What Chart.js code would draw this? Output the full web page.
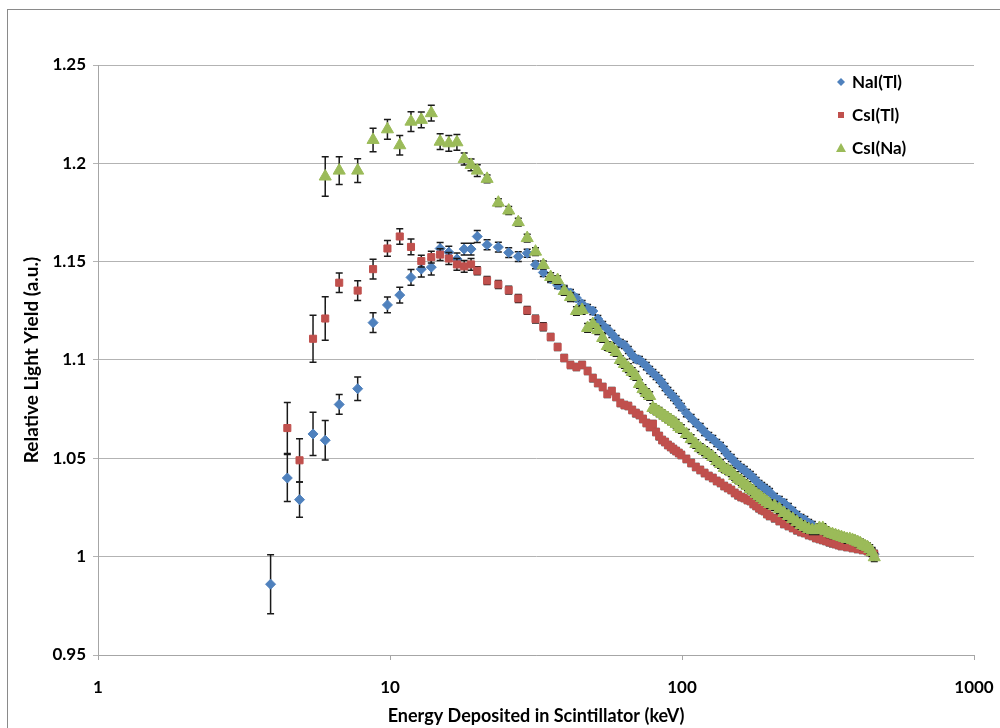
<!DOCTYPE html>
<html>
<head>
  <title>Relative Light Yield</title>
  <script src="https://cdn.jsdelivr.net/npm/chart.js"></script>
  <style>
    body { margin: 0; background: #fff; overflow: hidden; }
    #wrap { position: relative; width: 1000px; height: 728px; }
    #frame { position: absolute; left: 7px; top: 9px; width: 1010px; height: 740px; border: 1px solid #8a8a8a; }
  </style>
</head>
<body>
  <div id="wrap">
    <div id="frame"></div>
    <canvas id="lyChart"></canvas>
  </div>

  <script>
    // energy bins (keV)
    const lowE = [3.9, 4.45, 4.9, 5.45, 6.0, 6.7, 7.75, 8.75, 9.8, 10.8, 11.8, 12.8, 13.85, 14.85,
      15.9, 16.95, 17.95, 18.95, 19.9, 21.5, 23.5, 25.5, 27.5, 29.5, 31.5, 33.5];
    const highE = [35.5, 37.5, 39.5, 41.5, 43.5, 45.5, 47.5, 49.5, 51.5, 53.5, 55.5, 57.5, 59.5, 61.5,
      63.5, 65.5, 67.5, 69.5, 71.5, 73.5, 75.5, 77.5, 79.5, 81.5, 83.5, 85.5, 87.5, 89.5, 91.5, 93.5,
      95.5, 97.5, 99.5,
      103.5, 107.5, 111.5, 115.5, 119.5, 123.5, 127.5, 131.5, 135.5, 139.5, 143.5, 147.5, 151.5, 155.5,
      159.5, 163.5, 167.5, 171.5, 175.5, 179.5, 183.5, 187.5, 191.5, 195.5, 199.5,
      207.5, 215.5, 223.5, 231.5, 239.5, 247.5, 255.5, 263.5, 271.5, 279.5, 287.5, 295.5, 303.5, 311.5,
      319.5, 327.5, 335.5, 343.5, 351.5, 359.5, 367.5, 375.5, 383.5, 391.5, 399.5, 407.5, 415.5, 423.5,
      431.5, 439.5, 447.5, 455.5];
    const xTicks = [1, 10, 100, 1000];

    // NaI(Tl)
    const naiLowY = [0.986, 1.040, 1.029, 1.0624, 1.0592, 1.0774, 1.0854, 1.119, 1.128, 1.133, 1.142,
      1.1462, 1.1472, 1.1567, 1.1548, 1.1514, 1.1564, 1.1564, 1.1628, 1.1586, 1.1574, 1.1546, 1.1526,
      1.1543, 1.1484, 1.1445];
    const naiLowErr = [0.015, 0.012, 0.009, 0.011, 0.010, 0.005, 0.006, 0.005, 0.004, 0.004, 0.004,
      0.004, 0.004, 0.003, 0.003, 0.003, 0.003, 0.003, 0.003, 0.0025, 0.0025, 0.0025, 0.0025, 0.002,
      0.002, 0.002];
    const naiHighY = [1.1412, 1.1381, 1.1361, 1.1341, 1.1315, 1.1285, 1.1264, 1.1249, 1.1208, 1.1178,
      1.1158, 1.1132, 1.1107, 1.1086, 1.1076, 1.1051, 1.1025, 1.1005, 1.1000, 1.0985, 1.0969, 1.0949,
      1.0934, 1.0919, 1.0903, 1.0883, 1.0863, 1.0842, 1.0827, 1.0812, 1.0797, 1.0776, 1.0761,
      1.0730, 1.0705, 1.0680, 1.0659, 1.0634, 1.0613, 1.0598, 1.0578, 1.0563, 1.0542, 1.0517, 1.0502,
      1.0481, 1.0466, 1.0451, 1.0441, 1.0425, 1.0415, 1.0400, 1.0385, 1.0369, 1.0359, 1.0349, 1.0339,
      1.0329,
      1.0303, 1.0288, 1.0273, 1.0252, 1.0232, 1.0212, 1.0196, 1.0186, 1.0171, 1.0161, 1.0146, 1.0141,
      1.0130, 1.0120, 1.0115, 1.0110, 1.0105, 1.0100, 1.0095, 1.0090, 1.0085, 1.0080, 1.0074, 1.0069,
      1.0059, 1.0054, 1.0049, 1.0044, 1.0039, 1.0029, 1.0024, 1.0013];
    const naiHighErr = 0.0018;

    // CsI(Tl)
    const csiTlLowY = [1.0654, 1.049, 1.1108, 1.1211, 1.1393, 1.1353, 1.1462, 1.1567, 1.1628, 1.1575,
      1.1503, 1.1523, 1.1536, 1.1516, 1.1486, 1.1476, 1.1486, 1.1454, 1.1404, 1.1384, 1.1355, 1.1313,
      1.1252, 1.1208, 1.1169];
    const csiTlLowErr = [0.013, 0.011, 0.012, 0.011, 0.005, 0.005, 0.005, 0.004, 0.004, 0.004, 0.003,
      0.003, 0.003, 0.003, 0.003, 0.003, 0.003, 0.002, 0.002, 0.002, 0.002, 0.002, 0.002, 0.002, 0.002];
    const csiTlHighY = [1.1117, 1.1066, 1.1010, 1.0975, 1.0964, 1.0975, 1.0944, 1.0908, 1.0883, 1.0863,
      1.0827, 1.0842, 1.0812, 1.0781, 1.0771, 1.0766, 1.0746, 1.0730, 1.0720, 1.0700, 1.0680, 1.0659,
      1.0675, 1.0634, 1.0613, 1.0593, 1.0583, 1.0568, 1.0558, 1.0547, 1.0537, 1.0527, 1.0517,
      1.0497, 1.0476, 1.0456, 1.0441, 1.0425, 1.0410, 1.0400, 1.0385, 1.0375, 1.0359, 1.0349, 1.0339,
      1.0324, 1.0313, 1.0303, 1.0298, 1.0288, 1.0283, 1.0268, 1.0258, 1.0247, 1.0237, 1.0232, 1.0217,
      1.0207,
      1.0196, 1.0181, 1.0166, 1.0156, 1.0146, 1.0135, 1.0125, 1.0120, 1.0110, 1.0105, 1.0095, 1.0090,
      1.0085, 1.0080, 1.0074, 1.0069, 1.0064, 1.0059, 1.0054, 1.0054, 1.0049, 1.0049, 1.0044, 1.0044,
      1.0039, 1.0039, 1.0034, 1.0034, 1.0029, 1.0024, 1.0019, 1.0013];
    const csiTlHighErr = 0.0018;

    // CsI(Na)
    const csiNaLowY = [1.1933, 1.1963, 1.1963, 1.2119, 1.2173, 1.2092, 1.2212, 1.2221, 1.2255, 1.2110,
      1.2102, 1.2107, 1.2022, 1.1992, 1.1963, 1.1921, 1.1800, 1.1760, 1.1701, 1.1620, 1.1551, 1.1483];
    const csiNaLowErr = [0.010, 0.007, 0.006, 0.006, 0.005, 0.005, 0.005, 0.004, 0.004, 0.004, 0.004,
      0.004, 0.003, 0.003, 0.003, 0.002, 0.002, 0.002, 0.002, 0.002, 0.002, 0.002];
    const csiNaHighY = [1.1422, 1.1407, 1.1351, 1.1320, 1.1249, 1.1254, 1.1163, 1.1183, 1.1152, 1.1112,
      1.1071, 1.1061, 1.1041, 1.1000, 1.0980, 1.0959, 1.0939, 1.0919, 1.0878, 1.0852, 1.0832, 1.0817,
      1.0756, 1.0746, 1.0736, 1.0725, 1.0715, 1.0705, 1.0695, 1.0685, 1.0675, 1.0659, 1.0649,
      1.0624, 1.0598, 1.0573, 1.0552, 1.0537, 1.0522, 1.0507, 1.0486, 1.0471, 1.0451, 1.0441, 1.0430,
      1.0410, 1.0395, 1.0385, 1.0369, 1.0359, 1.0344, 1.0334, 1.0319, 1.0308, 1.0298, 1.0288, 1.0278,
      1.0268,
      1.0258, 1.0242, 1.0222, 1.0207, 1.0191, 1.0176, 1.0161, 1.0151, 1.0141, 1.0135, 1.0135, 1.0146,
      1.0146, 1.0130, 1.0120, 1.0115, 1.0110, 1.0105, 1.0100, 1.0095, 1.0090, 1.0090, 1.0085, 1.0080,
      1.0074, 1.0069, 1.0059, 1.0054, 1.0049, 1.0039, 1.0024, 0.9997];
    const csiNaHighErr = 0.0022;

    function points(es, ys, errs) {
      return ys.map((y, i) => ({ x: es[i], y: y, err: Array.isArray(errs) ? errs[i] : errs }));
    }

    const naiData = points(lowE, naiLowY, naiLowErr).concat(points(highE, naiHighY, naiHighErr));
    const csiTlData = points(lowE.slice(1), csiTlLowY, csiTlLowErr).concat(points(highE, csiTlHighY, csiTlHighErr));
    const csiNaData = points(lowE.slice(4), csiNaLowY, csiNaLowErr).concat(points(highE, csiNaHighY, csiNaHighErr));

    const FONT = 'Lato';

    // vertical error bars, drawn just under each series' markers
    const errorBars = {
      id: 'errorBars',
      beforeDatasetDraw(chart, args) {
        const { ctx, chartArea, scales } = chart;
        const ds = chart.data.datasets[args.index];
        ctx.save();
        ctx.beginPath();
        ctx.rect(chartArea.left, chartArea.top, chartArea.right - chartArea.left, chartArea.bottom - chartArea.top);
        ctx.clip();
        ctx.strokeStyle = '#1a1a1a';
        ctx.lineWidth = 1.5;
        ctx.beginPath();
        args.meta.data.forEach((pt, i) => {
          const d = ds.data[i];
          const top = scales.y.getPixelForValue(d.y + d.err);
          const bot = scales.y.getPixelForValue(d.y - d.err);
          ctx.moveTo(pt.x, top); ctx.lineTo(pt.x, bot);
          ctx.moveTo(pt.x - 3.5, top); ctx.lineTo(pt.x + 3.5, top);
          ctx.moveTo(pt.x - 3.5, bot); ctx.lineTo(pt.x + 3.5, bot);
        });
        ctx.stroke();
        ctx.restore();
      }
    };

    // legend in the top right corner of the plot, Excel style
    const cornerLegend = {
      id: 'cornerLegend',
      afterDraw(chart) {
        const ctx = chart.ctx;
        const rows = [82, 115, 148];
        const mx = 841;
        ctx.save();
        ctx.font = 'bold 17px ' + FONT;
        ctx.textBaseline = 'middle';
        chart.data.datasets.forEach((ds, i) => {
          const y = rows[i];
          ctx.fillStyle = ds.backgroundColor;
          ctx.beginPath();
          if (ds.pointStyle === 'rectRot') {
            ctx.moveTo(mx, y - 4); ctx.lineTo(mx + 4, y); ctx.lineTo(mx, y + 4); ctx.lineTo(mx - 4, y);
          } else if (ds.pointStyle === 'rect') {
            ctx.rect(mx - 3, y - 3, 6, 6);
          } else {
            ctx.moveTo(mx, y - 5); ctx.lineTo(mx + 5, y + 4); ctx.lineTo(mx - 5, y + 4);
          }
          ctx.closePath();
          ctx.fill();
          ctx.fillStyle = '#000';
          ctx.fillText(ds.label, 852, y + 1);
        });
        ctx.restore();
      }
    };

    const ctx = document.getElementById('lyChart').getContext('2d');

    new Chart(ctx, {
      type: 'scatter',
      data: {
        datasets: [{
          label: 'NaI(Tl)',
          data: naiData,
          pointStyle: 'rectRot',
          pointRadius: 5,
          backgroundColor: '#4f81bd',
          borderColor: '#4f81bd',
          borderWidth: 1,
          order: 3
        }, {
          label: 'CsI(Tl)',
          data: csiTlData,
          pointStyle: 'rect',
          pointRadius: 5,
          backgroundColor: '#c0504d',
          borderColor: '#c0504d',
          borderWidth: 1,
          order: 2
        }, {
          label: 'CsI(Na)',
          data: csiNaData,
          pointStyle: 'triangle',
          pointRadius: 7,
          backgroundColor: '#9bbb59',
          borderColor: '#9bbb59',
          borderWidth: 1,
          order: 1
        }]
      },
      options: {
        responsive: true,
        maintainAspectRatio: false,
        animation: false,
        layout: { padding: { left: 0, right: 26, top: 65, bottom: 0 } },
        plugins: {
          legend: { display: false },
          tooltip: { enabled: false }
        },
        scales: {
          x: {
            type: 'logarithmic',
            min: 1,
            max: 1000,
            afterBuildTicks(scale) { scale.ticks = xTicks.map(v => ({ value: v })); },
            afterFit(scale) {
              scale.height = 73;
              scale.paddingLeft = 0;
              scale.paddingRight = 0;
            },
            ticks: {
              color: '#000',
              font: { family: FONT, size: 17, weight: 'bold' },
              padding: 17,
              maxRotation: 0,
              autoSkip: false,
              callback: v => String(v)
            },
            grid: { drawOnChartArea: false, drawTicks: true, tickLength: 5, color: '#a6a6a6' },
            border: { display: true, color: '#a6a6a6' },
            title: {
              display: true,
              text: 'Energy Deposited in Scintillator (keV)',
              color: '#000',
              font: { family: FONT, size: 18, weight: 'bold' },
              padding: { top: 0, bottom: 1 }
            }
          },
          y: {
            min: 0.95,
            max: 1.25,
            afterFit(scale) {
              scale.width = 98;
              scale.paddingTop = 0;
              scale.paddingBottom = 0;
            },
            ticks: {
              stepSize: 0.05,
              color: '#000',
              font: { family: FONT, size: 17, weight: 'bold' },
              padding: 7,
              callback: v => String(Math.round(v * 100) / 100)
            },
            grid: { color: '#b3b3b3', tickLength: 5 },
            border: { display: true, color: '#a6a6a6' },
            title: {
              display: true,
              text: 'Relative Light Yield (a.u.)',
              color: '#000',
              font: { family: FONT, size: 19, weight: 'bold' },
              padding: { top: 20, bottom: 0 }
            }
          }
        }
      },
      plugins: [errorBars, cornerLegend]
    });
  </script>
</body>
</html>
